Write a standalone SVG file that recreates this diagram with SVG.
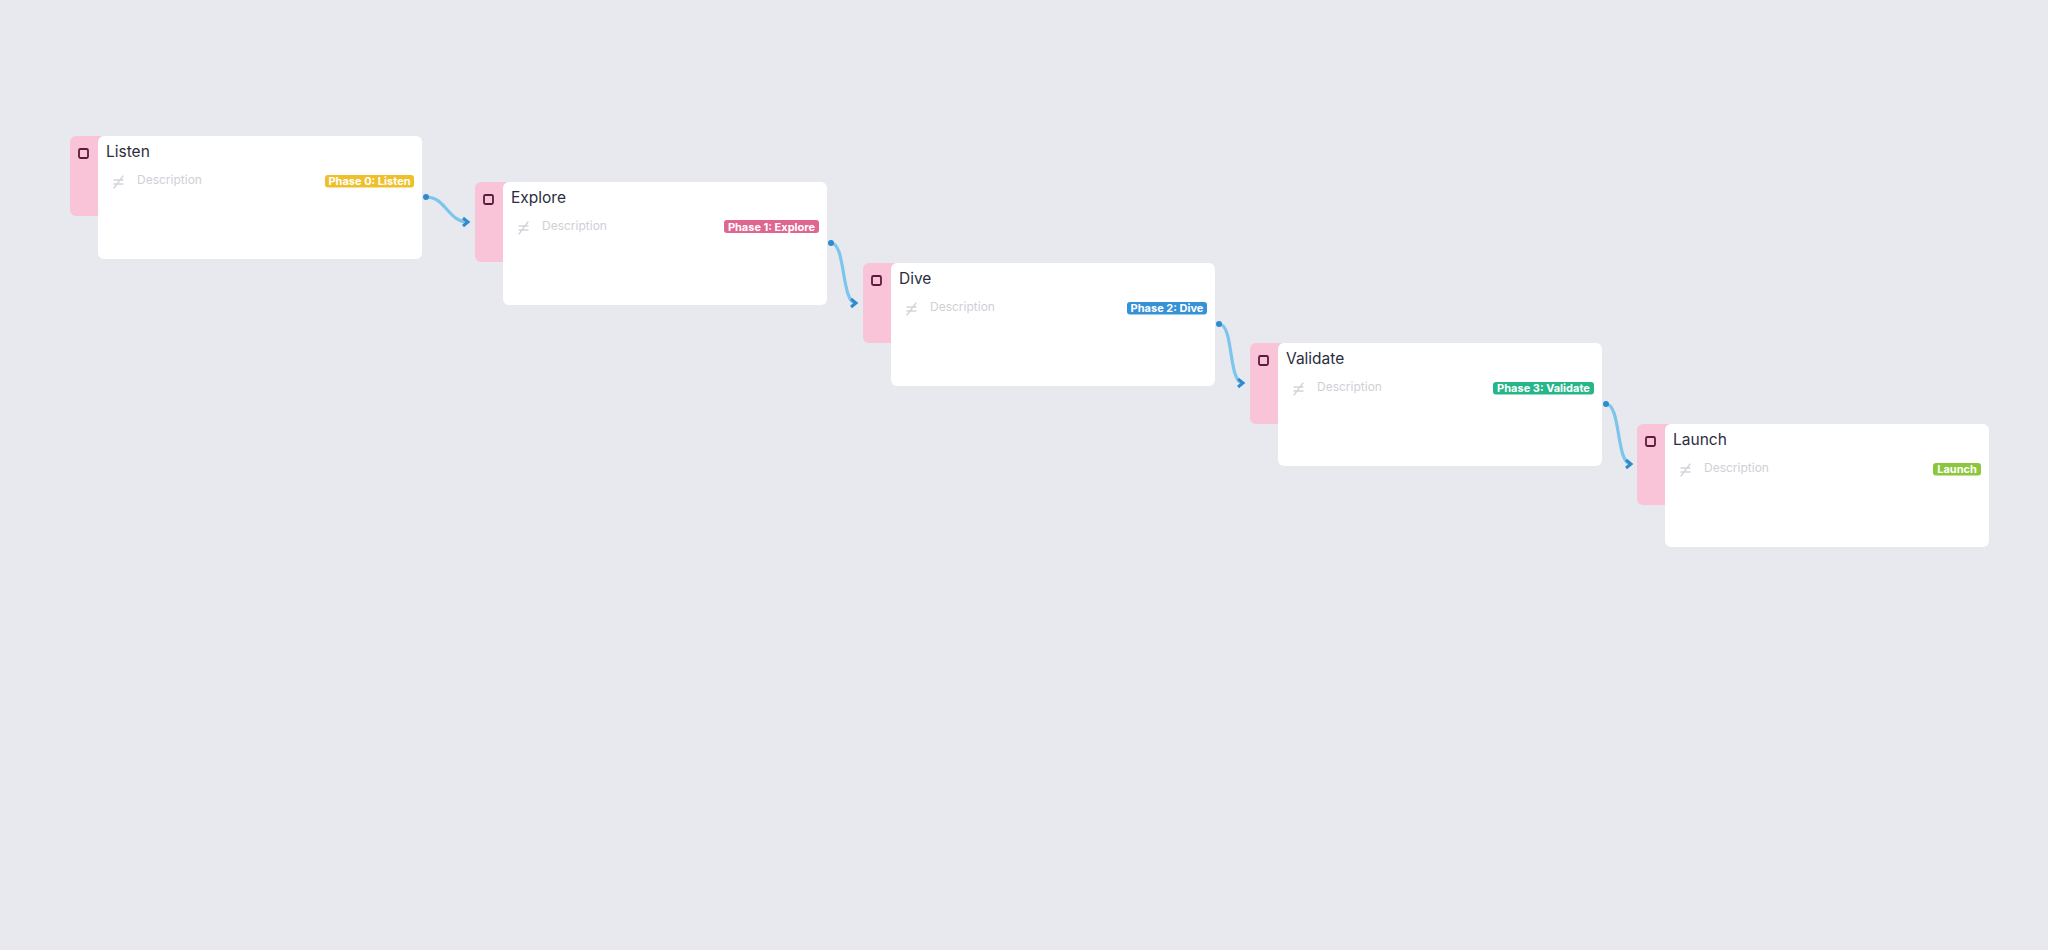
<svg xmlns="http://www.w3.org/2000/svg" width="2048" height="950" viewBox="0 0 2048 950">
<style>
.tab{fill:#f9c3d8}
.card{fill:#ffffff}
.chk{fill:none;stroke:#5c1a38;stroke-width:1.8}
.title{font-family:Inter,"Noto Sans",sans-serif;font-size:15.5px;fill:#2b2d3e}
.desc{font-family:Inter,"Noto Sans",sans-serif;font-size:12px;fill:#cfd0d6}
.ico{stroke:#d3d4da;stroke-width:1.3;fill:none;stroke-linecap:round}
.badge-t{font-family:Inter,"Noto Sans",sans-serif;font-size:11px;font-weight:700;fill:#ffffff}
.edge{fill:none;stroke:#7cc5ec;stroke-width:3.2}
.dot{fill:#2f8bcf}
</style>
<defs>
<marker id="arr" markerUnits="userSpaceOnUse" markerWidth="12" markerHeight="12" refX="8" refY="6" orient="auto">
<path d="M3 2 L8 6 L3 10" fill="none" stroke="#2f8bcf" stroke-width="3" stroke-linejoin="miter"/>
</marker>
</defs>
<rect width="2048" height="950" fill="#e8e9ee"/>
<g id="connectors">
<path class="edge" d="M426 197 C446 197 448 222 468 222" marker-end="url(#arr)"/>
<circle class="dot" cx="426" cy="197" r="3"/>
<path class="edge" d="M831 243 C846 243 841 303 856 303" marker-end="url(#arr)"/>
<circle class="dot" cx="831" cy="243" r="3"/>
<path class="edge" d="M1219 324 C1234 324 1228 383 1243 383" marker-end="url(#arr)"/>
<circle class="dot" cx="1219" cy="324" r="3"/>
<path class="edge" d="M1606 404 C1621 404 1616 464 1631 464" marker-end="url(#arr)"/>
<circle class="dot" cx="1606" cy="404" r="3"/>
</g>
<g id="node-listen" transform="translate(70,136)">
<rect class="tab" x="0" y="0" width="36" height="80" rx="6"/>
<rect class="card" x="28" y="0" width="324" height="123" rx="6"/>
<rect class="chk" x="9" y="13" width="9" height="9" rx="1.5"/>
<text class="title" x="36" y="21">Listen</text>
<g class="ico"><path d="M44 44 L53 44 M44 48 L53 48 M53 40 L44 52"/></g>
<text class="desc" x="67" y="48">Description</text>
<rect x="255" y="39" width="89" height="12.5" rx="3" fill="#eec12c"/>
<text class="badge-t" x="299.5" y="49.2" text-anchor="middle">Phase 0: Listen</text>
</g>
<g id="node-explore" transform="translate(475,182)">
<rect class="tab" x="0" y="0" width="36" height="80" rx="6"/>
<rect class="card" x="28" y="0" width="324" height="123" rx="6"/>
<rect class="chk" x="9" y="13" width="9" height="9" rx="1.5"/>
<text class="title" x="36" y="21">Explore</text>
<g class="ico"><path d="M44 44 L53 44 M44 48 L53 48 M53 40 L44 52"/></g>
<text class="desc" x="67" y="48">Description</text>
<rect x="249" y="38" width="95" height="13" rx="3" fill="#df6690"/>
<text class="badge-t" x="296.5" y="48.7" text-anchor="middle">Phase 1: Explore</text>
</g>
<g id="node-dive" transform="translate(863,263)">
<rect class="tab" x="0" y="0" width="36" height="80" rx="6"/>
<rect class="card" x="28" y="0" width="324" height="123" rx="6"/>
<rect class="chk" x="9" y="13" width="9" height="9" rx="1.5"/>
<text class="title" x="36" y="21">Dive</text>
<g class="ico"><path d="M44 44 L53 44 M44 48 L53 48 M53 40 L44 52"/></g>
<text class="desc" x="67" y="48">Description</text>
<rect x="264" y="39" width="80" height="12.5" rx="3" fill="#3592d6"/>
<text class="badge-t" x="304" y="49.2" text-anchor="middle">Phase 2: Dive</text>
</g>
<g id="node-validate" transform="translate(1250,343)">
<rect class="tab" x="0" y="0" width="36" height="81" rx="6"/>
<rect class="card" x="28" y="0" width="324" height="123" rx="6"/>
<rect class="chk" x="9" y="13" width="9" height="9" rx="1.5"/>
<text class="title" x="36" y="21">Validate</text>
<g class="ico"><path d="M44 44 L53 44 M44 48 L53 48 M53 40 L44 52"/></g>
<text class="desc" x="67" y="48">Description</text>
<rect x="243" y="39" width="101" height="12.5" rx="3" fill="#27b68a"/>
<text class="badge-t" x="293.5" y="49.2" text-anchor="middle">Phase 3: Validate</text>
</g>
<g id="node-launch" transform="translate(1637,424)">
<rect class="tab" x="0" y="0" width="36" height="81" rx="6"/>
<rect class="card" x="28" y="0" width="324" height="123" rx="6"/>
<rect class="chk" x="9" y="13" width="9" height="9" rx="1.5"/>
<text class="title" x="36" y="21">Launch</text>
<g class="ico"><path d="M44 44 L53 44 M44 48 L53 48 M53 40 L44 52"/></g>
<text class="desc" x="67" y="48">Description</text>
<rect x="296" y="39" width="48" height="12.5" rx="3" fill="#8cc63c"/>
<text class="badge-t" x="320" y="49.2" text-anchor="middle">Launch</text>
</g>
</svg>
